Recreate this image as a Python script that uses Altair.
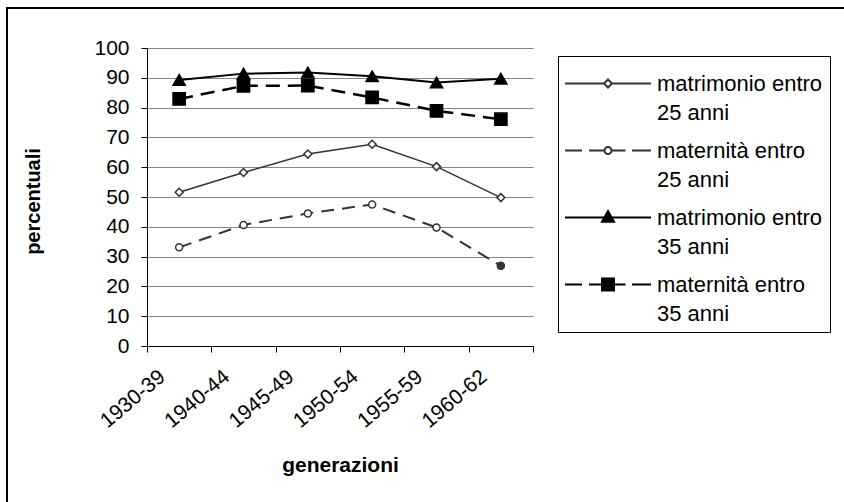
import altair as alt
import pandas as pd

# Birth cohorts on the x axis
generazioni = ["1930-39", "1940-44", "1945-49", "1950-54", "1955-59", "1960-62"]

# Series names (legend labels, two lines split at "|")
serie = [
    "matrimonio entro|25 anni",
    "maternità entro|25 anni",
    "matrimonio entro|35 anni",
    "maternità entro|35 anni",
]

# Percentages per cohort
matrimonio_25 = [51.6, 58.2, 64.4, 67.7, 60.2, 49.8]
maternita_25 = [33.1, 40.6, 44.5, 47.5, 39.8, 26.9]
matrimonio_35 = [89.3, 91.4, 91.8, 90.5, 88.4, 89.7]
maternita_35 = [82.9, 87.3, 87.4, 83.4, 78.9, 76.1]

valori = [matrimonio_25, maternita_25, matrimonio_35, maternita_35]

righe = []
for s, vals in zip(serie, valori):
    for g, v in zip(generazioni, vals):
        righe.append({"generazione": g, "serie": s, "valore": v})
df = pd.DataFrame(righe)

FONT = "Liberation Sans"

# Drawing style of each series
stili = [
    dict(color="#333333", width=1.5, dash=None, shape="diamond", size=64, filled=False),
    dict(color="#333333", width=2.0, dash=[13, 8], shape="circle", size=49, filled=False),
    dict(color="#000000", width=2.0, dash=None, shape="triangle-up", size=150, filled=True),
    dict(color="#000000", width=2.5, dash=[14, 8], shape="square", size=150, filled=True),
]

W, H = 386, 298
LEFT, TOP = 147, 48
TOTAL_W, TOTAL_H = 844, 502

x_enc = alt.X(
    "generazione:N",
    sort=generazioni,
    bandPosition=0.5,
    scale=alt.Scale(type="band", paddingInner=0, paddingOuter=0),
    axis=alt.Axis(
        title="generazioni",
        tickBand="extent",
        labelAngle=-40,
        labelAlign="right",
        labelBaseline="middle",
        labelOffset=-17,
        labelPadding=22,
        labelFontSize=21,
        tickSize=6,
        grid=False,
        titleX=W / 2,
        titleY=119,
        titleFontSize=21,
        titleAnchor="middle",
        titleAlign="center",
        titleBaseline="middle",
    ),
)
y_enc = alt.Y(
    "valore:Q",
    scale=alt.Scale(domain=[0, 100], nice=False),
    axis=alt.Axis(
        title="percentuali",
        values=list(range(0, 101, 10)),
        tickSize=6,
        labelPadding=12,
        labelFontSize=21,
        grid=True,
        titleX=-114,
        titleY=H / 2 + 4,
        titleFontSize=20,
        titleAngle=270,
        titleAlign="center",
        titleBaseline="middle",
    ),
)

layers = []

# Outer frame of the chart: left and top edges (the others run off the canvas)
uno = pd.DataFrame({"k": [0]})
layers.append(
    alt.Chart(uno).mark_rule(stroke="black", strokeWidth=2).encode(
        x=alt.value(7 - LEFT), y=alt.value(7 - TOP), y2=alt.value(TOTAL_H - TOP + 20)
    )
)
layers.append(
    alt.Chart(uno).mark_rule(stroke="black", strokeWidth=2).encode(
        x=alt.value(6 - LEFT), x2=alt.value(TOTAL_W - LEFT + 20), y=alt.value(8 - TOP)
    )
)

for s, st in zip(serie, stili):
    base = alt.Chart(df).transform_filter(alt.datum.serie == s)
    line_kw = dict(stroke=st["color"], strokeWidth=st["width"])
    if st["dash"]:
        line_kw["strokeDash"] = st["dash"]
    layers.append(base.mark_line(**line_kw).encode(x=x_enc, y=y_enc))
    layers.append(
        base.mark_point(
            shape=st["shape"],
            size=st["size"],
            filled=True,
            fill=st["color"] if st["filled"] else "white",
            stroke=st["color"],
            strokeWidth=1.5,
            opacity=1,
        ).encode(x=x_enc, y=y_enc)
    )

# Last cohort of the maternity-by-25 series drawn with a solid marker
layers.append(
    alt.Chart(df)
    .transform_filter((alt.datum.serie == serie[1]) & (alt.datum.generazione == generazioni[-1]))
    .mark_point(shape="circle", size=60, filled=True, color="#333333", opacity=1)
    .encode(x=x_enc, y=y_enc)
)

# Legend glyphs: line (solid or dashed) with the series marker, as SVG paths.
# Path units are sqrt(symbolSize) / 2 pixels each.
SYM = 100
U = SYM ** 0.5 / 2
DY = 9.5 / U  # lowers the glyph onto the first label line


def px(v):
    return f"{v / U:.3f}"


def glyph(segments, marker):
    return "".join(f"M{px(a)},{DY:.3f}H{px(b)}" for a, b in segments) + marker


def diamond(r):
    return (f"M0,{px(9.5 - r)}L{px(r)},{px(9.5)}L0,{px(9.5 + r)}"
            f"L{px(-r)},{px(9.5)}Z")


def circle(r):
    return (f"M{px(r)},{px(9.5)}A{px(r)},{px(r)} 0 1,1 {px(-r)},{px(9.5)}"
            f"A{px(r)},{px(r)} 0 1,1 {px(r)},{px(9.5)}Z")


def triangle(r):
    return f"M0,{px(9.5 - 6.5)}L{px(r)},{px(9.5 + 4.3)}L{px(-r)},{px(9.5 + 4.3)}Z"


def square(r):
    return f"M{px(-r)},{px(9.5 - r)}H{px(r)}V{px(9.5 + r)}H{px(-r)}Z"


solid_cut = [(-43, -4), (4, 43)]
dashed = [(-43, -26), (-19, -3.5), (3.5, 17.5), (24, 43)]
glifi = [
    glyph(solid_cut, diamond(4)),
    glyph(dashed, circle(3.5)),
    glyph([(-43, 43)], triangle(6)),
    glyph(dashed, square(6)),
]
riempimenti = ["white", "white", "black", "black"]
contorni = ["#333333", "#333333", "black", "black"]

legenda = alt.Legend(
    title=None,
    orient="none",
    legendX=558 - LEFT,
    legendY=56 - TOP,
    strokeColor="black",
    padding=7,
    symbolSize=SYM,
    symbolStrokeWidth=2,
    symbolOffset=32,
    labelOffset=38,
    rowPadding=6,
    labelFontSize=22,
    labelFont=FONT,
    labelColor="black",
    labelLimit=0,
    labelBaseline="top",
    labelExpr="split(datum.label, '|')",
)

legend_layer = (
    alt.Chart(pd.DataFrame({"serie": serie}))
    .transform_filter("false")
    .mark_point(filled=True, strokeWidth=2, opacity=1)
    .encode(
        shape=alt.Shape("serie:N", scale=alt.Scale(domain=serie, range=glifi), legend=legenda),
        fill=alt.Fill("serie:N", scale=alt.Scale(domain=serie, range=riempimenti)),
        stroke=alt.Stroke("serie:N", scale=alt.Scale(domain=serie, range=contorni)),
    )
)
layers.append(legend_layer)

chart = (
    alt.layer(*layers)
    .properties(
        width=W,
        height=H,
        autosize=alt.AutoSizeParams(type="none"),
        padding={"left": LEFT, "top": TOP, "right": TOTAL_W - LEFT - W, "bottom": TOTAL_H - TOP - H},
        background="white",
    )
    .configure(style={"guide-label": {"lineHeight": 29}})
    .configure_view(stroke=None)
    .configure_axis(
        labelFont=FONT,
        titleFont=FONT,
        labelColor="black",
        titleColor="black",
        titleFontWeight="bold",
        domainColor="black",
        domainWidth=1,
        tickColor="black",
        tickWidth=1,
        gridColor="#868686",
        gridWidth=1,
    )
)

chart.save("out.html", embed_options={"renderer": "svg", "actions": False})
